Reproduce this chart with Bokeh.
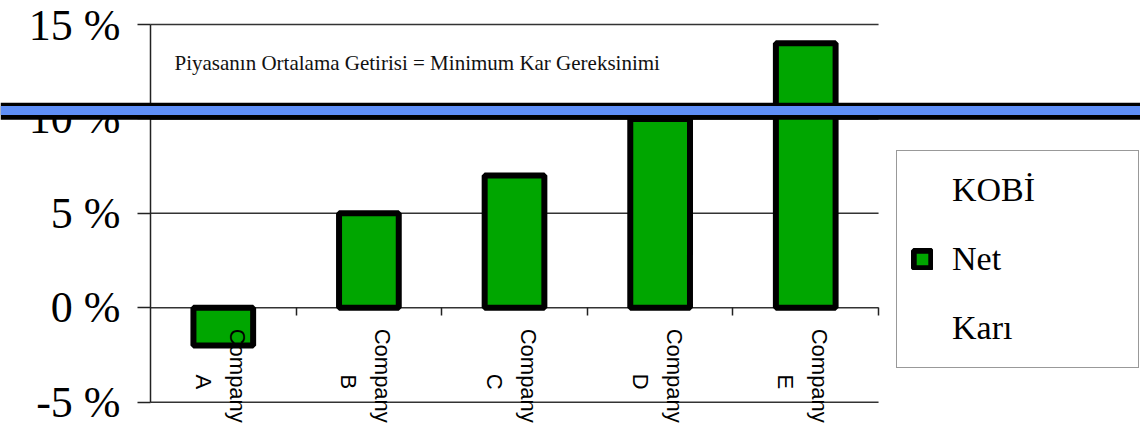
import math
from bokeh.plotting import figure
from bokeh.models import (Range1d, ColumnDataSource, BoxAnnotation, Label, LabelSet, Legend,
                          LegendItem, PrintfTickFormatter, FixedTicker)
from bokeh.core.properties import value
from bokeh.embed import file_html
from bokeh.resources import INLINE

# ---- data ----
categories = ["Company A", "Company B", "Company C", "Company D", "Company E"]
net_profit = [-2, 5, 7, 10, 14]
y_ticks = [-5, 0, 5, 10, 15]
market_return = 10.45
note_text = "Piyasanın Ortalama Getirisi = Minimum Kar Gereksinimi"
legend_lines = ["KOBİ", "Net", "Karı"]

SERIF = "Liberation Serif"
SANS = "Liberation Sans"

n = len(categories)
x_idx = list(range(n))
left_edge, right_edge = -0.5, n - 0.5
words = [c.split(" ", 1) for c in categories]

p = figure(width=1140, height=427, title=None,
           x_range=Range1d(-1.530, 6.299), y_range=Range1d(-6.34, 16.27),
           output_backend="svg", toolbar_location=None, min_border=0)
p.outline_line_color = None
p.background_fill_color = "white"
p.xgrid.visible = False
p.ygrid.visible = False

# horizontal grid lines between the axis and the last category
p.segment(x0=[left_edge] * len(y_ticks), x1=[right_edge] * len(y_ticks),
          y0=y_ticks, y1=y_ticks, line_color="#333333", line_width=1.5)

src = ColumnDataSource(dict(x=x_idx, top=net_profit,
                            w1=[w[0] for w in words], w2=[w[1] for w in words],
                            y0=[0] * n))
bars = p.vbar(x="x", top="top", bottom=0, width=0.41, source=src,
              fill_color="#00A600", line_color="black", line_width=6)

# y axis (fixed at the left edge of the category area)
ya = p.yaxis[0]
ya.fixed_location = left_edge
ya.bounds = (y_ticks[0], y_ticks[-1])
ya.ticker = FixedTicker(ticks=y_ticks)
ya.formatter = PrintfTickFormatter(format="%d %%")
ya.major_label_text_font = SERIF
ya.major_label_text_font_size = "44px"
ya.major_label_text_color = "black"
ya.major_tick_out = 13
ya.major_tick_in = 0
ya.minor_tick_line_color = None
ya.major_tick_line_color = "#222222"
ya.major_tick_line_width = 1.5
ya.axis_line_color = "#222222"
ya.axis_line_width = 1.5
ya.major_label_standoff = 17

# x axis on the zero line (boundary ticks only; labels drawn below)
xa = p.xaxis[0]
xa.fixed_location = 0
xa.bounds = (left_edge, right_edge)
xa.ticker = FixedTicker(ticks=x_idx, minor_ticks=[i + 0.5 for i in x_idx])
xa.major_label_text_color = None
xa.major_tick_line_color = None
xa.major_tick_out = 0
xa.major_tick_in = 0
xa.minor_tick_out = 8
xa.minor_tick_in = 0
xa.minor_tick_line_color = "#222222"
xa.minor_tick_line_width = 1.5
xa.axis_line_color = None

# rotated category labels hanging from the zero line (two centred lines)
common = dict(source=src, x="x", y="y0", angle=-math.pi / 2,
              text_align="center", text_baseline="middle",
              text_font=value(SANS), text_font_size="22px", text_color="black")
p.add_layout(LabelSet(text="w1", x_offset=14, y_offset=-68, **common))
p.add_layout(LabelSet(text="w2", x_offset=-20, y_offset=-74, **common))

# note
p.add_layout(Label(x=174, y=365, x_units="screen", y_units="screen", text=note_text,
                   text_font=SERIF, text_font_size="21px", text_color="#111111",
                   text_baseline="middle"))

# market return band across the whole page
p.add_layout(BoxAnnotation(top=market_return + 0.40, bottom=market_return - 0.50,
                           fill_color="black", fill_alpha=1, line_alpha=0, level="overlay"))
p.add_layout(BoxAnnotation(top=market_return + 0.24, bottom=market_return - 0.24,
                           fill_color="#5F8FF7", fill_alpha=1, line_alpha=0, level="overlay"))

items = [LegendItem(label=legend_lines[0], renderers=[]),
         LegendItem(label=legend_lines[1], renderers=[bars]),
         LegendItem(label=legend_lines[2], renderers=[])]
legend = Legend(items=items, location=(896, 59), orientation="vertical",
                label_text_font=SERIF, label_text_font_size="34px",
                label_text_color="black", label_height=50, spacing=19,
                glyph_width=22, glyph_height=22, label_standoff=19,
                padding=14, label_width=172,
                border_line_color="#333333", border_line_width=1.5,
                background_fill_color="white", background_fill_alpha=1)
p.add_layout(legend)

open("out.html", "w").write(file_html(p, INLINE))
